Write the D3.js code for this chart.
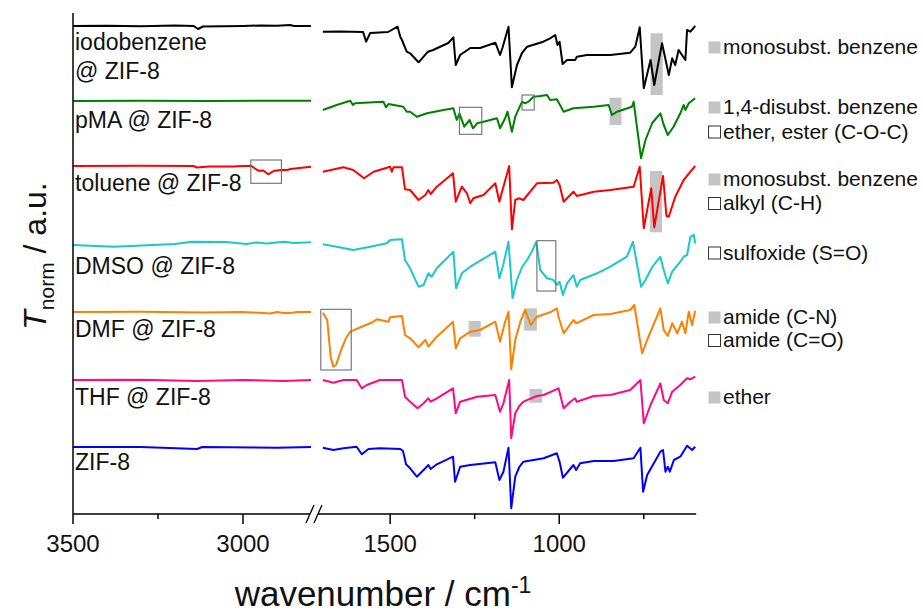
<!DOCTYPE html>
<html>
<head>
    <meta charset="UTF-8" />
    <style>
        body { margin: 0; background: #fff; }
        svg text { font-family: Arial, "Liberation Sans", sans-serif; fill: #111; }
        .spec { fill: none; stroke-width: 2; stroke-linejoin: round; }
        .lbl { font-size: 23px; }
        .leg { font-size: 21px; }
        .tick-lbl { font-size: 24px; text-anchor: middle; }
    </style>
    <script src="https://d3js.org/d3.v7.min.js"></script>
</head>
<body>
    <svg width="923" height="612"></svg>
    <script>
        // spectra, stacked; values relative to each trace's own baseline (a.u.)
        var names = ["iodobenzene", "pMA", "toluene", "DMSO", "DMF", "THF", "ZIF-8"];
        var colors = ["#000000", "#008000", "#ff0000", "#1cc8c8", "#ff8000", "#ff0a82", "#0000ff"];
        var offsets = [488, 413, 348, 269, 202, 134, 67];

        // high wavenumber part (3500 - 2800 cm-1)
        var hiBlack = [[3500,0],[3400,0.3],[3300,-0.3],[3200,0.5],[3145,0],[3132,-3],[3118,-0.5],[3000,0],[2950,0.5],[2900,0.3],[2862,1],[2850,0],[2800,0]];
        var hiGreen = [[3500,0],[3300,0.2],[3100,0],[2950,0.3],[2800,0.3]];
        var hiRed = [[3500,0],[3300,0.3],[3145,0],[3136,-1.5],[3100,-0.5],[3030,-0.5],[3000,0],[2975,0],[2965,-2.5],[2955,-4.7],[2940,-4.5],[2926,-8.3],[2910,-5],[2890,-4],[2870,-4],[2860,-3],[2800,-0.7]];
        var hiCyan = [[3500,0],[3380,-1.7],[3200,1],[3150,3.3],[3050,3],[2990,1],[2960,2.5],[2930,1.5],[2880,3.3],[2850,2],[2800,2.7]];
        var hiOrange = [[3500,0],[3300,0.3],[3120,-0.5],[3000,0],[2920,-1.5],[2900,0],[2880,-1],[2860,-1],[2840,0],[2800,0]];
        var hiPink = [[3500,0],[3300,0.2],[3135,-1],[3000,0],[2880,-1],[2800,0]];
        var hiBlue = [[3500,0],[3300,0],[3135,-2],[3120,0],[2900,-0.8],[2800,0]];

        // fingerprint part (1700 - 600 cm-1)
        var loBlack = [[1699,-5.7],[1650,-5.5],[1580,-6],[1571,-15.7],[1559,-7],[1506,-6],[1478,-0.7],[1470,-10.7],[1465,-14],[1451,-25.7],[1441,-27.3],[1416,-36.3],[1388,-25.7],[1373,-24],[1328,-17],[1313,-11.3],[1306,-39],[1293,-29],[1263,-22],[1234,-22],[1189,-16.7],[1175,-29],[1168,-22],[1150,-0.7],[1140,-61.3],[1125,-39],[1110,-27],[1095,-20.7],[1047,-15.7],[1027,-12.3],[1012,-9],[1005,-19],[999,-15.7],[990,-38],[977,-34],[953,-34],[948,-30.7],[918,-29],[849,-29],[790,-26.7],[775,-20.7],[762,-1.3],[750,-62.3],[730,-34],[719,-59],[696,-17.3],[676,-49],[666,-32.3],[657,-39],[647,-24],[637,-29],[627,-34],[622,-4],[612,-5.7],[598,0]];
        var loGreen = [[1699,-9],[1658,-4],[1618,0.3],[1610,-4],[1604,-2.3],[1520,-0.7],[1512,-6.3],[1505,-3],[1461,-5.7],[1451,-10.7],[1441,-10.7],[1421,-15.7],[1391,-12.3],[1342,-9],[1313,-7.3],[1303,-19],[1295,-12.3],[1281,-25.7],[1265,-19],[1255,-27.3],[1243,-22.3],[1224,-20.7],[1184,-17.3],[1175,-27.3],[1160,-17.3],[1153,-10.7],[1140,-30.7],[1130,-15.7],[1110,-0.7],[1101,-2.3],[1091,-0.7],[1076,4.3],[1056,5],[1036,6],[1027,1],[1007,1.7],[987,-10.7],[958,-7.3],[898,-5.7],[854,-4],[844,-14],[829,-10.7],[785,-5.7],[780,-0.7],[758,-57.3],[745,-39],[725,-22],[701,-12.3],[691,-24],[679,-34],[662,-25.7],[642,-12.3],[632,-4],[627,-9],[617,-2.3],[598,2.7]];
        var loRed = [[1699,-5.7],[1638,-1.3],[1609,-4],[1577,-12.3],[1549,-5.7],[1500,-0.7],[1495,-5.7],[1490,-1.3],[1465,-1.3],[1456,-23.3],[1441,-24],[1416,-34],[1396,-29],[1387,-24],[1380,-28],[1362,-20.7],[1314,-7.3],[1306,-35.7],[1288,-20.7],[1273,-27.3],[1263,-37.3],[1254,-32.3],[1224,-29],[1189,-17.3],[1177,-35.7],[1165,-20.7],[1148,0],[1140,-63.3],[1130,-34],[1120,-32.3],[1106,-34],[1066,-17.3],[1017,-16.7],[1007,-14],[999,-19],[987,-35.7],[958,-25.7],[948,-30],[898,-25.7],[849,-24],[780,-20.7],[762,-0.7],[750,-62.3],[728,-22.3],[719,-61.3],[693,-10],[683,-50],[676,-50.7],[657,-30.7],[632,-14],[612,-5.7],[598,0]];
        var loCyan = [[1699,0.7],[1658,-1.7],[1609,-5],[1559,-1.7],[1510,1.7],[1500,5],[1465,5.7],[1456,-15],[1441,-23.3],[1416,-41.7],[1401,-40],[1387,-28.3],[1377,-31.7],[1362,-23.3],[1313,-6.7],[1305,-43.3],[1288,-28.3],[1263,-21.7],[1189,-6.7],[1177,-33.3],[1167,-21.7],[1150,3.3],[1138,-53.3],[1125,-35],[1110,-22],[1095,-15],[1080,-6],[1068,3.3],[1056,-25],[1036,-33.3],[1017,-35],[1007,-40],[999,-36.7],[989,-50],[977,-38.3],[958,-30],[948,-41.7],[938,-35],[888,-28.3],[849,-21.7],[800,-11.7],[782,3.3],[758,-41.7],[745,-35],[725,-22],[701,-11.7],[691,-25],[679,-38.3],[666,-26.7],[642,-16.7],[632,-11.7],[622,-10],[612,8.3],[602,10],[598,1.7]];
        var loOrange = [[1699,-0.7],[1686,-8],[1676,-44.7],[1668,-54.7],[1660,-53],[1645,-38],[1631,-26.3],[1618,-19.7],[1579,-14],[1559,-11.3],[1539,-7.3],[1505,-9.7],[1500,-5.3],[1465,-4],[1456,-23],[1441,-26.3],[1416,-35.3],[1396,-28],[1387,-34.7],[1362,-24.7],[1314,-9.7],[1306,-36.3],[1293,-26.3],[1263,-19.7],[1234,-18],[1189,-9.7],[1175,-29.7],[1160,-9.7],[1150,0.3],[1142,-57.3],[1130,-28],[1115,-9.7],[1101,2],[1084,-13],[1066,-4.7],[1027,-0.3],[1007,3.7],[1002,-4.7],[987,-21.3],[958,-8],[950,-11.3],[898,-3],[849,-2],[790,2],[778,7],[755,-41.3],[740,-28],[701,3.7],[691,-18],[679,-24],[666,-11.3],[651,-21.3],[637,-9.7],[627,-21.3],[617,0.3],[607,-13],[598,1.3]];
        var loPink = [[1699,0],[1668,-2.7],[1638,0],[1599,0],[1584,-8.3],[1569,-5],[1530,0],[1465,0],[1456,-16.7],[1441,-21.7],[1419,-28.3],[1401,-23.3],[1387,-18.3],[1380,-21.7],[1362,-18.3],[1314,-8.3],[1306,-33.3],[1293,-21.7],[1243,-16.7],[1189,-15],[1175,-31.7],[1165,-23.3],[1148,0],[1142,-58.3],[1130,-33.3],[1118,-26],[1106,-21.7],[1066,-16],[1046,-15],[1002,-8.3],[987,-28.3],[967,-21.7],[953,-18.3],[948,-21.7],[898,-16],[849,-15],[790,-10],[760,0],[750,-43.3],[730,-25],[701,-3.3],[691,-20],[679,-23.3],[666,-11.7],[642,-5],[622,1.7],[612,0.7],[598,3.3]];
        var loBlue = [[1699,-0.7],[1668,-3],[1638,-1.3],[1599,0.3],[1584,-7.3],[1564,-2],[1530,-1.3],[1470,-2],[1462,-4],[1453,-17.3],[1441,-21.3],[1421,-29.7],[1396,-21.3],[1387,-18],[1380,-22],[1362,-17.3],[1314,-9.7],[1308,-34.7],[1293,-19.7],[1263,-18],[1189,-15.3],[1177,-33],[1165,-24.7],[1150,-0.7],[1142,-61.3],[1130,-29.7],[1118,-20],[1106,-14.7],[1046,-11.3],[1007,-6.3],[999,-14.7],[989,-30.7],[958,-18],[950,-23],[938,-16.3],[898,-14],[839,-14],[780,-11.3],[760,-0.7],[752,-44.7],[740,-28],[701,-4.7],[693,-3],[686,-24.7],[679,-19.7],[673,-24.7],[661,-13],[642,-9.7],[622,1.3],[607,-3],[598,0.3]];

        var hiSets = [hiBlack, hiGreen, hiRed, hiCyan, hiOrange, hiPink, hiBlue];
        var loSets = [loBlack, loGreen, loRed, loCyan, loOrange, loPink, loBlue];

        // band marks: [trace, segment, from, to, top, bottom]
        var grayBands = [[0,"lo",730,694,-7.3,-69],[1,"lo",851,816,3.3,-24],[2,"lo",732,696,-5,-66.3],
                         [4,"lo",1268,1232,-9,-24.7],[4,"lo",1104,1066,3.7,-18.7],[5,"lo",1088,1051,-9,-22.7]];
        var openBands = [[1,"lo",1295,1229,-6.3,-33.3],[1,"lo",1110,1074,6,-9],[2,"hi",2977,2887,6,-17.3],
                         [3,"lo",1066,1010,4.3,-46],[4,"lo",1705,1615,2.7,-58]];

        var sampleLabels = [["iodobenzene", "@ ZIF-8"], ["pMA @ ZIF-8"], ["toluene @ ZIF-8"], ["DMSO @ ZIF-8"],
                            ["DMF @ ZIF-8"], ["THF @ ZIF-8"], ["ZIF-8"]];
        var labelY = [50, 128, 191, 274, 337, 405, 470];

        var legendText = ["monosubst. benzene", "1,4-disubst. benzene", "ether, ester (C-O-C)", "monosubst. benzene",
                          "alkyl (C-H)", "sulfoxide (S=O)", "amide (C-N)", "amide (C=O)", "ether"];
        var legendFilled = [true, true, false, true, false, false, true, false, true];
        var legendY = [54, 114, 138.5, 186, 210, 259.5, 324, 347, 404];

        var hiTicks = [3500, 3000], hiMinor = [3250];
        var loTicks = [1500, 1000], loMinor = [1250, 750];

        var svg = d3.select("svg");
        var axisY = 514;

        var xHi = d3.scaleLinear().domain([3500, 2800]).range([73, 311]);
        var xLo = d3.scaleLinear().domain([1700, 595]).range([322.5, 696.2]);
        var y = d3.scaleLinear().domain([0, 500]).range([axisY, 14]);

        // annotation boxes go under the traces
        function bandRect(b) {
            var xs = b[1] == "hi" ? xHi : xLo;
            var x1 = xs(b[2]), x2 = xs(b[3]);
            var y1 = y(offsets[b[0]] + b[4]), y2 = y(offsets[b[0]] + b[5]);
            return {x: Math.min(x1, x2), y: Math.min(y1, y2), w: Math.abs(x2 - x1), h: Math.abs(y2 - y1)};
        }
        svg.append("g").selectAll("rect").data(grayBands.map(bandRect)).enter().append("rect")
            .attr("x", function(d) { return d.x; }).attr("y", function(d) { return d.y; })
            .attr("width", function(d) { return d.w; }).attr("height", function(d) { return d.h; })
            .attr("fill", "#c4c4c4");

        var hiLine = d3.line().x(function(d) { return xHi(d[0]); });
        var loLine = d3.line().x(function(d) { return xLo(d[0]); });

        names.forEach(function(n, i) {
            var yf = function(d) { return y(offsets[i] + d[1]); };
            svg.append("path").attr("class", "spec").attr("stroke", colors[i])
                .attr("d", hiLine.y(yf)(hiSets[i]));
            svg.append("path").attr("class", "spec").attr("stroke", colors[i])
                .attr("d", loLine.y(yf)(loSets[i]));
        });

        svg.append("g").selectAll("rect").data(openBands.map(bandRect)).enter().append("rect")
            .attr("x", function(d) { return d.x; }).attr("y", function(d) { return d.y; })
            .attr("width", function(d) { return d.w; }).attr("height", function(d) { return d.h; })
            .attr("fill", "none").attr("stroke", "#6e6e6e").attr("stroke-width", 1.1);

        // sample labels
        sampleLabels.forEach(function(lines, i) {
            var t = svg.append("text").attr("class", "lbl").attr("x", 75).attr("y", labelY[i]);
            lines.forEach(function(s, k) {
                t.append("tspan").attr("x", 75).attr("dy", k == 0 ? 0 : 29).text(s);
            });
        });

        // legend for the marked bands
        var leg = svg.append("g").selectAll("g").data(legendText).enter().append("g")
            .attr("transform", function(d, i) { return "translate(708," + legendY[i] + ")"; });
        leg.append("rect").attr("x", 0.5).attr("y", -12.5).attr("width", 12).attr("height", 12)
            .attr("fill", function(d, i) { return legendFilled[i] ? "#c4c4c4" : "#fff"; })
            .attr("stroke", function(d, i) { return legendFilled[i] ? "none" : "#333"; })
            .attr("stroke-width", 1);
        leg.append("text").attr("class", "leg").attr("x", 15).attr("y", 0).text(function(d) { return d; });

        // axes
        svg.append("line").attr("x1", 73).attr("x2", 73).attr("y1", 13).attr("y2", axisY)
            .attr("stroke", "#000").attr("stroke-width", 1.5);

        var brkL = xHi(2800) - 1, brkR = brkL + 8;
        svg.append("line").attr("x1", 73).attr("x2", brkL).attr("y1", axisY).attr("y2", axisY)
            .attr("stroke", "#000").attr("stroke-width", 1.5);
        svg.append("line").attr("x1", brkR).attr("x2", xLo(595)).attr("y1", axisY).attr("y2", axisY)
            .attr("stroke", "#000").attr("stroke-width", 1.5);
        [brkL, brkR].forEach(function(bx) {
            svg.append("line").attr("x1", bx - 4).attr("y1", axisY + 9).attr("x2", bx + 4).attr("y2", axisY - 9)
                .attr("stroke", "#000").attr("stroke-width", 1.3);
        });

        function ticks(scale, vals, len, labelled) {
            var g = svg.append("g").selectAll("g").data(vals).enter().append("g")
                .attr("transform", function(d) { return "translate(" + scale(d) + "," + axisY + ")"; });
            g.append("line").attr("y2", len).attr("stroke", "#000").attr("stroke-width", 1.5);
            if (labelled) {
                g.append("text").attr("class", "tick-lbl").attr("y", 38).text(function(d) { return d; });
            }
        }
        ticks(xHi, hiTicks, 10, true);
        ticks(xHi, hiMinor, 5, false);
        ticks(xLo, loTicks, 10, true);
        ticks(xLo, loMinor, 5, false);

        var xt = svg.append("text").attr("x", 383).attr("y", 606).attr("text-anchor", "middle")
            .style("font-size", "35px");
        xt.append("tspan").text("wavenumber / cm");
        xt.append("tspan").attr("dy", -13).style("font-size", "23px").text("-1");

        var yt = svg.append("text").attr("transform", "translate(46,256) rotate(-90)")
            .attr("text-anchor", "middle").style("font-size", "32px");
        yt.append("tspan").style("font-style", "italic").text("T");
        yt.append("tspan").attr("dy", 8).style("font-size", "21px").text("norm");
        yt.append("tspan").attr("dy", -8).text(" / a.u.");
    </script>
</body>
</html>
